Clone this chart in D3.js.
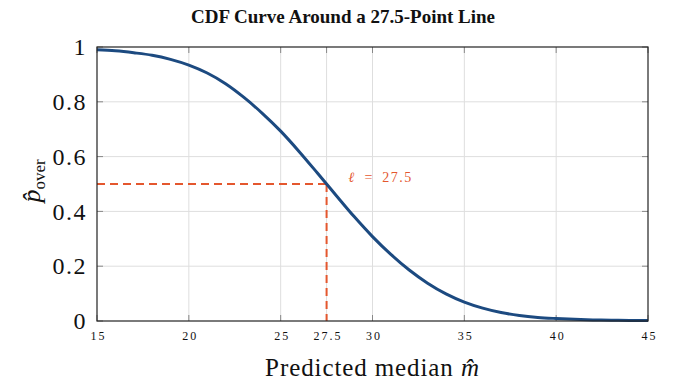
<!DOCTYPE html>
<html>
<head>
<meta charset="utf-8">
<script src="https://cdn.jsdelivr.net/npm/d3@7"></script>
<style>
  html, body { margin: 0; padding: 0; background: #fff; }
</style>
</head>
<body>
<div id="chart"></div>
<script>
// ── Data ───────────────────────────────────────────────────────────────────
const medians = [15, 16, 17, 18, 19, 20, 21, 22, 23, 24, 25, 26, 27, 27.5, 28, 29, 30,
  31, 32, 33, 34, 35, 36, 37, 38, 39, 40, 41, 42, 43, 44, 45];
const pOver = [0.99, 0.986, 0.979, 0.97, 0.955, 0.934, 0.905, 0.866, 0.816, 0.758, 0.693,
  0.619, 0.54, 0.5, 0.46, 0.381, 0.308, 0.243, 0.186, 0.138, 0.099, 0.069, 0.047, 0.031,
  0.02, 0.013, 0.009, 0.006, 0.004, 0.003, 0.002, 0.0015];
const xTicks = [15, 20, 25, 27.5, 30, 35, 40, 45];
const yTicks = [0, 0.2, 0.4, 0.6, 0.8, 1];
const lineValue = 27.5;
const lineProb = 0.5;

const W = 684, H = 390;
const margin = { top: 47, right: 36, bottom: 69, left: 97 };
const iw = W - margin.left - margin.right;
const ih = H - margin.top - margin.bottom;

const BLUE = "#1c4a80";
const RED = "#e4572e";
const SERIF = "'Liberation Serif', 'Times New Roman', Times, 'DejaVu Serif', serif";

const svg = d3.select("#chart").append("svg")
  .attr("width", W).attr("height", H)
  .style("display", "block")
  .attr("font-family", SERIF);

const x = d3.scaleLinear().domain([15, 45]).range([0, iw]);
const y = d3.scaleLinear().domain([0, 1]).range([ih, 0]);

// title
svg.append("text")
  .attr("x", 343).attr("y", 23)
  .attr("text-anchor", "middle")
  .attr("font-family", SERIF)
  .attr("font-size", 19).attr("font-weight", "bold")
  .attr("fill", "#111")
  .text("CDF Curve Around a 27.5-Point Line");

const g = svg.append("g").attr("transform", `translate(${margin.left},${margin.top})`);

// ── Grid
g.append("g").selectAll("line").data(xTicks.slice(1, -1)).join("line")
  .attr("x1", d => x(d)).attr("x2", d => x(d))
  .attr("y1", 0).attr("y2", ih)
  .attr("stroke", "#dedede").attr("stroke-width", 1);
g.append("g").selectAll("line").data(yTicks.slice(1, -1)).join("line")
  .attr("x1", 0).attr("x2", iw)
  .attr("y1", d => y(d)).attr("y2", d => y(d))
  .attr("stroke", "#dedede").attr("stroke-width", 1);

// ── Inner tick marks on all four sides
const tl = 6;
const tickG = g.append("g").attr("stroke", "#888").attr("stroke-width", 1);
xTicks.forEach(t => {
  tickG.append("line").attr("x1", x(t)).attr("x2", x(t)).attr("y1", ih).attr("y2", ih - tl);
  tickG.append("line").attr("x1", x(t)).attr("x2", x(t)).attr("y1", 0).attr("y2", tl);
});
yTicks.forEach(t => {
  tickG.append("line").attr("x1", 0).attr("x2", tl).attr("y1", y(t)).attr("y2", y(t));
  tickG.append("line").attr("x1", iw).attr("x2", iw - tl).attr("y1", y(t)).attr("y2", y(t));
});

// ── Tick labels via axes
const xAxis = g.append("g")
  .attr("transform", `translate(0,${ih})`)
  .call(d3.axisBottom(x).tickValues(xTicks).tickSize(0).tickPadding(10)
    .tickFormat(d => d === 27.5 ? "27.5" : d3.format("d")(d)));
xAxis.attr("font-family", SERIF);
xAxis.select(".domain").remove();
xAxis.selectAll("text")
  .attr("font-size", 12).attr("letter-spacing", 2).attr("dx", 1).attr("fill", "#111");

const yAxis = g.append("g")
  .call(d3.axisLeft(y).tickValues(yTicks).tickSize(0).tickPadding(10)
    .tickFormat(d => d === 0 ? "0" : d === 1 ? "1" : d3.format(".1f")(d)));
yAxis.attr("font-family", SERIF);
yAxis.select(".domain").remove();
yAxis.selectAll("text")
  .attr("font-size", 24).attr("letter-spacing", 1.5).attr("fill", "#111");

// ── Reference line (dashed)
const dash = "8,5";
g.append("line")
  .attr("x1", 0).attr("x2", x(lineValue))
  .attr("y1", y(lineProb)).attr("y2", y(lineProb))
  .attr("stroke", RED).attr("stroke-width", 2).attr("stroke-dasharray", dash);
g.append("line")
  .attr("x1", x(lineValue)).attr("x2", x(lineValue))
  .attr("y1", y(lineProb)).attr("y2", ih)
  .attr("stroke", RED).attr("stroke-width", 2).attr("stroke-dasharray", dash);

// ── Curve
const line = d3.line()
  .x((d, i) => x(medians[i]))
  .y(d => y(d))
  .curve(d3.curveMonotoneX);
g.append("path")
  .datum(pOver)
  .attr("d", line)
  .attr("fill", "none")
  .attr("stroke", BLUE).attr("stroke-width", 3);

// annotation
const ann = g.append("text")
  .attr("x", x(lineValue) + 22).attr("y", y(lineProb) - 2)
  .attr("font-size", 14).attr("fill", RED)
  .attr("letter-spacing", 1.5);
ann.append("tspan").attr("font-style", "italic").text("ℓ");
ann.append("tspan").text("\u2002=\u200227.5");

// ── Frame
g.append("rect")
  .attr("x", 0).attr("y", 0).attr("width", iw).attr("height", ih)
  .attr("fill", "none").attr("stroke", "#222").attr("stroke-width", 1.2);

// ── Axis titles
const xl = svg.append("text")
  .attr("x", margin.left + iw / 2).attr("y", 376)
  .attr("text-anchor", "middle")
  .attr("font-size", 25).attr("letter-spacing", 0.9).attr("fill", "#111");
xl.append("tspan").text("Predicted median ");
xl.append("tspan").attr("font-style", "italic").text("m\u0302");

const yl = svg.append("text")
  .attr("transform", `translate(40,${margin.top + ih / 2 - 3}) rotate(-90)`)
  .attr("text-anchor", "middle")
  .attr("font-size", 26).attr("fill", "#111");
yl.append("tspan").attr("font-style", "italic").text("p\u0302");
yl.append("tspan").attr("font-size", 17).attr("dy", 5).text("over");
</script>
</body>
</html>
